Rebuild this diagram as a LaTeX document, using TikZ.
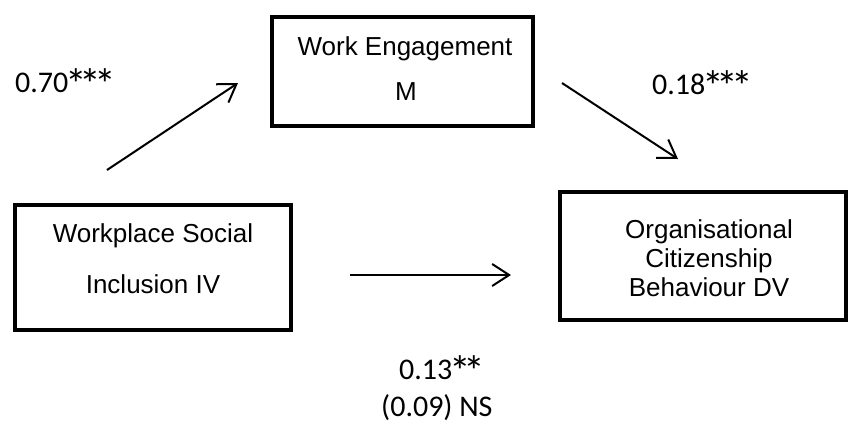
\documentclass[tikz,border=0pt]{standalone}
\usepackage{fontspec}
\usepackage{graphicx}
\setmainfont{Liberation Sans}
\newfontfamily\calib{Carlito}
\newcommand\bigstar{\makebox[0.498em]{\raisebox{-0.26em}[0.7em][0pt]{\scalebox{1.45}{*}}}}
\usetikzlibrary{arrows.meta}
\tikzset{
  varbox/.style={draw=black, line width=4.5pt, rectangle, inner sep=0pt},
  boxtext/.style={font=\fontsize{26}{30}\selectfont, anchor=base, inner sep=0pt},
  coef/.style={font=\calib\fontsize{30}{36}\selectfont, anchor=base west, inner sep=0pt},
  path/.style={line width=2pt, -{Straight Barb[length=17pt,width=22pt,line width=2pt]}}
}
\begin{document}
\begin{tikzpicture}[x=1pt,y=-1pt]
\useasboundingbox (0,0) rectangle (850,429);
% boxes
\node[varbox, minimum width=261pt, minimum height=109pt] (we) at (402.5,71.5) {};
\node[varbox, minimum width=276pt, minimum height=125pt] (iv) at (153,267.5) {};
\node[varbox, minimum width=286pt, minimum height=128pt] (dv) at (703,256) {};
% box texts
\node[boxtext] (we1) at (405,55) {Work Engagement};
\node[boxtext] (we2) at (406,100) {M};
\node[boxtext] (iv1) at (153,242) {Workplace Social};
\node[boxtext] (iv2) at (153,293) {Inclusion IV};
\node[boxtext] (dv1) at (709,238) {Organisational};
\node[boxtext] (dv2) at (709,267) {Citizenship};
\node[boxtext] (dv3) at (709,296) {Behaviour DV};
% arrow ends
\coordinate (a1s) at (107,170);
\coordinate (a1e) at (238,83);
\coordinate (a2s) at (562,83);
\coordinate (a2e) at (678,159);
\coordinate (a3s) at (350,275);
\coordinate (a3e) at (511,275);
\draw[path] (a1s) -- (a1e);
\draw[path] (a2s) -- (a2e);
\draw[path] (a3s) -- (a3e);
% coefficients
\node[coef] (c1) at (15,92) {0.70\bigstar\bigstar\bigstar};
\node[coef] (c2) at (652,94) {0.18\bigstar\bigstar\bigstar};
\node[coef] (c3) at (399,379) {0.13\bigstar\bigstar};
\node[coef] (c4) at (381,416) {(0.09) NS};
\end{tikzpicture}
\end{document}
